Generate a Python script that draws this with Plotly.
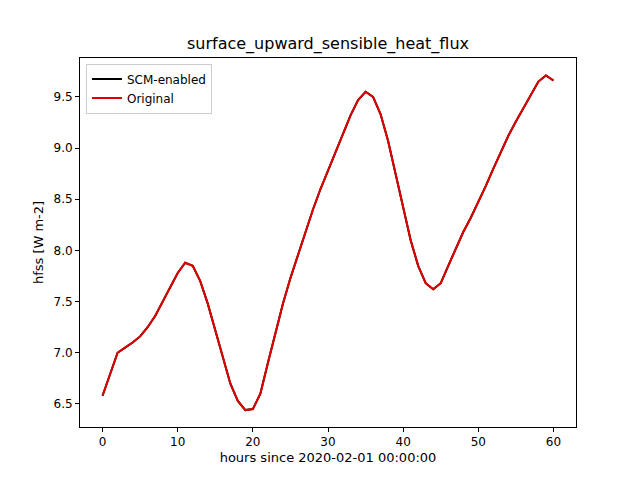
import plotly.graph_objects as go

hours = [0, 2, 3, 4, 5, 6, 7, 8, 9, 10, 11, 12, 13, 14, 15, 16, 17, 18, 19, 20,
         21, 22, 23, 24, 25, 26, 27, 28, 29, 30, 31, 32, 33, 34, 35, 36, 37, 38, 39, 40,
         41, 42, 43, 44, 45, 46, 47, 48, 49, 50, 51, 52, 53, 54, 55, 56, 57, 58, 59, 60]
hfss = [6.58, 7.00, 7.05, 7.10, 7.16, 7.25, 7.36, 7.50, 7.65, 7.78, 7.88, 7.85, 7.70, 7.48,
        7.22, 6.95, 6.70, 6.53, 6.44, 6.45, 6.60, 6.90, 7.20, 7.48, 7.73, 7.96, 8.18, 8.40,
        8.60, 8.78, 8.97, 9.15, 9.32, 9.47, 9.55, 9.50, 9.33, 9.07, 8.75, 8.40, 8.10, 7.85,
        7.68, 7.62, 7.68, 7.85, 8.02, 8.18, 8.32, 8.47, 8.63, 8.80, 8.96, 9.12, 9.26, 9.39,
        9.52, 9.65, 9.71, 9.66]

fig = go.Figure()
fig.add_trace(go.Scatter(x=hours, y=hfss, mode="lines", name="SCM-enabled",
                         line={"color": "black", "width": 2}))
fig.add_trace(go.Scatter(x=hours, y=hfss, mode="lines", name="Original",
                         line={"color": "#e00000", "width": 2}))

axis = dict(showgrid=False, zeroline=False, showline=True, mirror=True,
            linecolor="black", linewidth=1, ticks="outside", ticklen=4,
            tickcolor="black", tickfont={"size": 12, "color": "black"})
fig.update_layout(
    width=640, height=480,
    margin={"l": 72, "r": 72, "t": 50, "b": 61},
    plot_bgcolor="white", paper_bgcolor="white",
    font={"family": "DejaVu Sans", "color": "black"},
    title={"text": "surface_upward_sensible_heat_flux", "x": 0.5, "xanchor": "center",
           "y": 0.915, "yanchor": "bottom", "font": {"size": 16}},
    xaxis=dict(axis, range=[-3, 63], tickvals=[0, 10, 20, 30, 40, 50, 60],
               title={"text": "hours since 2020-02-01 00:00:00", "font": {"size": 13}, "standoff": 4}),
    yaxis=dict(axis, range=[6.275, 9.88], tickvals=[6.5, 7.0, 7.5, 8.0, 8.5, 9.0, 9.5],
               tickformat=".1f",
               title={"text": "hfss [W m-2]", "font": {"size": 13}, "standoff": 6}),
    legend={"x": 0.012, "y": 0.985, "xanchor": "left", "yanchor": "top",
            "bordercolor": "#cccccc", "borderwidth": 1, "bgcolor": "white",
            "font": {"size": 12}, "tracegroupgap": 0},
)
fig.write_html("out.html")
